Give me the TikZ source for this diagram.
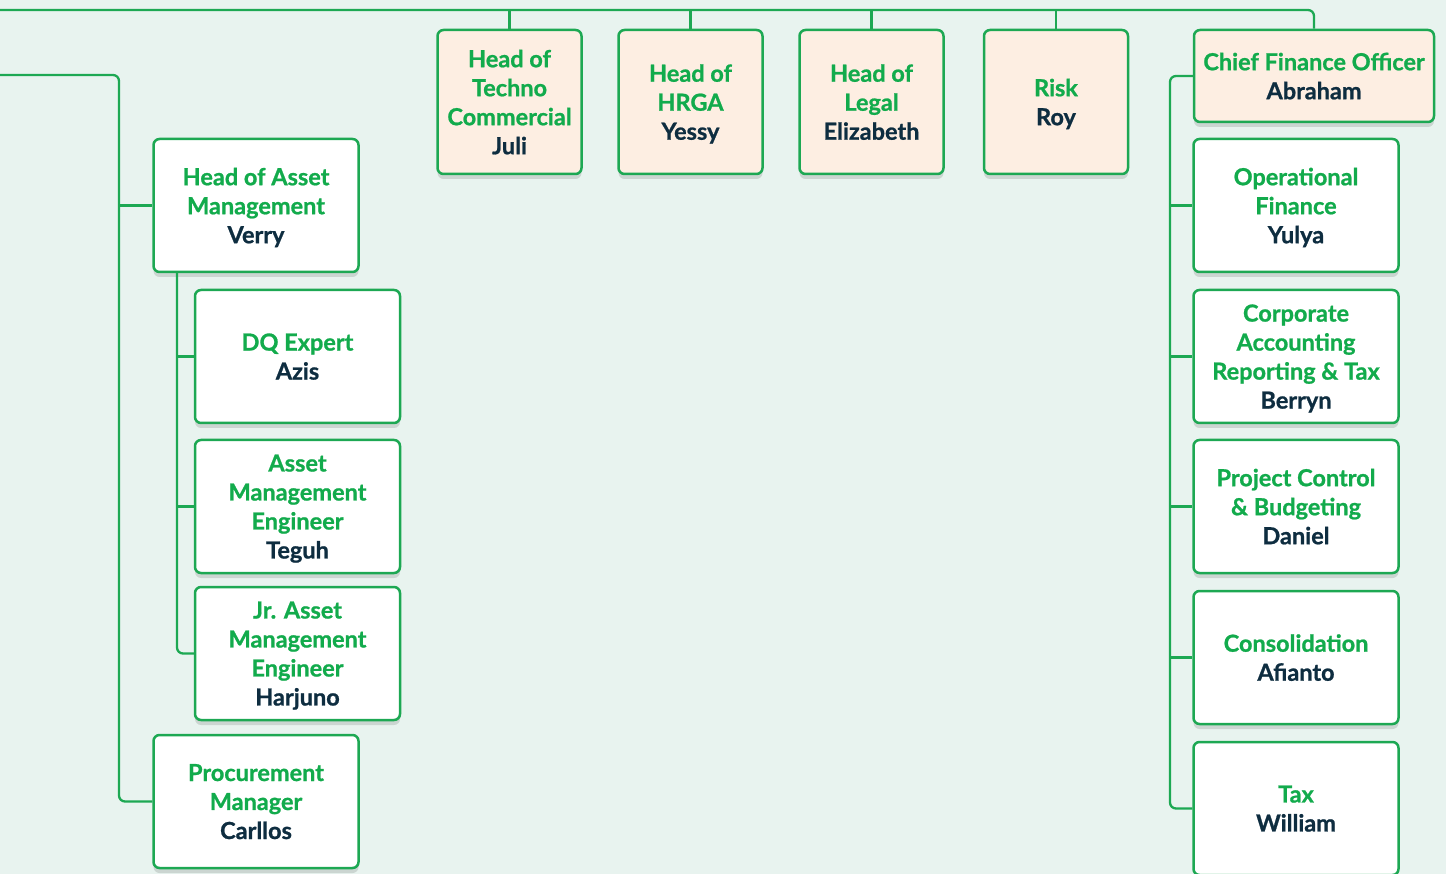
\documentclass[tikz,border=0pt]{standalone}
\usepackage{fontspec}
\setmainfont{Lato}[BoldFeatures={FakeBold=0.9}]
\usetikzlibrary{shadows}

\definecolor{bgmint}{HTML}{E8F3EF}
\definecolor{linegreen}{HTML}{1DA853}
\definecolor{titlegreen}{HTML}{12AB4C}
\definecolor{namenavy}{HTML}{0E2D40}
\definecolor{peach}{HTML}{FDEEE2}

\newcommand{\who}[1]{\textcolor{namenavy}{#1}}

\tikzset{
  link/.style={draw=linegreen, line width=2.3pt},
  post/.style={draw=linegreen, line width=2.5pt, rounded corners=6pt, fill=white,
    minimum width=205pt, minimum height=133pt, align=center, inner sep=2pt,
    text depth=0pt,
    text=titlegreen, font=\fontsize{23.5}{29}\selectfont\bfseries,
    drop shadow={shadow xshift=0pt, shadow yshift=-5pt, opacity=0.12, fill=black}},
  head/.style={post, fill=peach, minimum width=144pt, minimum height=144pt},
}

\begin{document}
\begin{tikzpicture}[x=1pt, y=-1pt]
\useasboundingbox (0,0) rectangle (1446,874);
\fill[bgmint] (0,0) rectangle (1446,874);

% top row
\node[head] (tc) at (509.5,102) {Head of\\Techno\\Commercial\\\who{Juli}};
\node[head] (hr) at (690.5,102) {Head of\\HRGA\\\who{Yessy}};
\node[head] (lg) at (871.5,102) {Head of\\Legal\\\who{Elizabeth}};
\node[head] (rk) at (1056,102) {Risk\\\who{Roy}};
\node[head, minimum width=240pt, minimum height=92pt] (cfo) at (1314,76) {Chief Finance Officer\\\who{Abraham}};

% asset side
\node[post] (ham) at (256,205.5) {Head of Asset\\Management\\\who{Verry}};
\node[post] (dq) at (297.5,356.5) {DQ Expert\\\who{Azis}};
\node[post] (ame) at (297.5,506.5) {Asset\\Management\\Engineer\\\who{Teguh}};
\node[post] (jr) at (297.5,653.5) {Jr. Asset\\Management\\Engineer\\\who{Harjuno}};
\node[post] (proc) at (256,801.5) {Procurement\\Manager\\\who{Carllos}};

% finance side
\node[post] (of) at (1296,205.5) {Operational\\Finance\\\who{Yulya}};
\node[post] (ca) at (1296,356.5) {Corporate\\Accounting\\Reporting \& Tax\\\who{Berryn}};
\node[post] (pc) at (1296,506.5) {Project Control\\\& Budgeting\\\who{Daniel}};
\node[post] (con) at (1296,657.5) {Consolidation\\\who{Afianto}};
\node[post] (tax) at (1296,808.5) {Tax\\\who{William}};

% connectors
\coordinate (topL) at (0,10);
\draw[link, rounded corners=6pt] (topL) -| (cfo.north);
\foreach \n in {tc,hr,lg,rk}
  \draw[link] (\n.north) -- (\n.north |- topL);

\coordinate (leftL) at (0,75);
\coordinate (lbus) at (119,75);
\draw[link, rounded corners=6pt] (leftL) -- (lbus) -- (lbus |- proc.west) -- (proc.west);
\draw[link] (lbus |- ham.west) -- (ham.west);

\coordinate (sbus) at (177,273);
\draw[link, rounded corners=6pt] (sbus) -- (sbus |- jr.west) -- (jr.west);
\foreach \n in {dq,ame}
  \draw[link] (sbus |- \n.west) -- (\n.west);

\coordinate (rbus) at (1170,76);
\draw[link, rounded corners=6pt] (cfo.west) -- (rbus) -- (rbus |- tax.west) -- (tax.west);
\foreach \n in {of,ca,pc,con}
  \draw[link] (rbus |- \n.west) -- (\n.west);
\end{tikzpicture}
\end{document}
